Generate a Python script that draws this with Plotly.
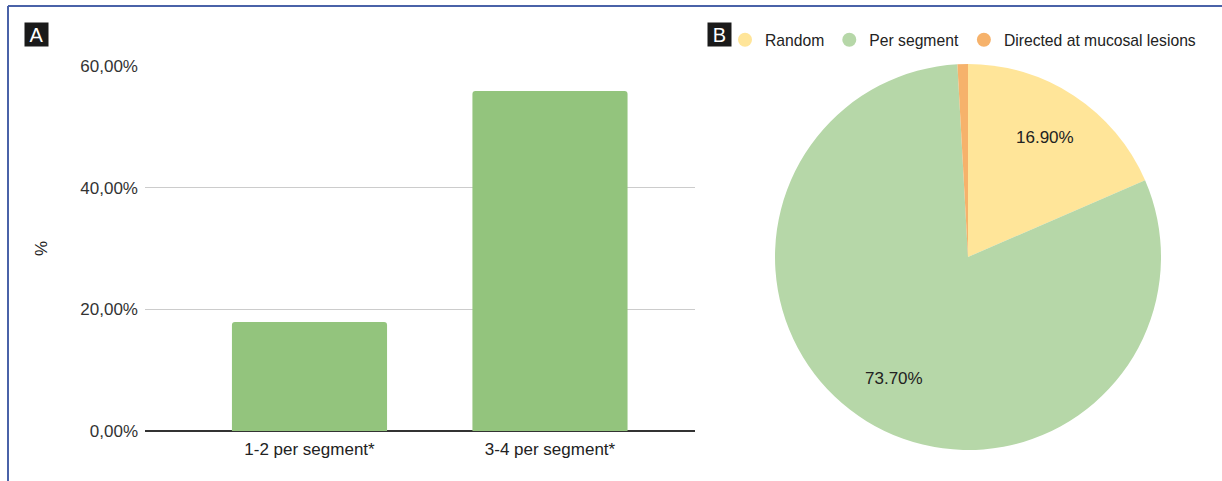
import math
import plotly.graph_objects as go

# Panel A: biopsies per segment
bar_categories = ["1-2 per segment*", "3-4 per segment*"]
bar_values = [17.9, 55.9]
y_tick_values = [0, 20, 40, 60]
y_tick_labels = ["0,00%", "20,00%", "40,00%", "60,00%"]

# Panel B: biopsy strategy
pie_labels = ["Random", "Per segment", "Directed at mucosal lesions"]
pie_values = [16.9, 73.7, 0.8]
pie_text = ["16.90%", "73.70%", ""]
pie_colors = ["#ffe599", "#b6d7a8", "#f6b26b"]

W, H = 1222, 481
FONT = "Liberation Sans, Arial, sans-serif"


def px_x(x):
    return x / W


def px_y(y):
    return 1 - y / H


# pie placement (pixels)
PIE_L, PIE_R, PIE_T, PIE_B = 775, 1161, 64, 450
pie_cx = (PIE_L + PIE_R) / 2
pie_cy = (PIE_T + PIE_B) / 2
pie_r = (PIE_R - PIE_L) / 2

fig = go.Figure()

fig.add_trace(go.Bar(
    x=bar_categories,
    y=bar_values,
    width=0.645,
    marker=dict(color="#93c47d", line=dict(width=0)),
    showlegend=False,
    hoverinfo="x+y",
))

fig.add_trace(go.Pie(
    labels=pie_labels,
    values=pie_values,
    textinfo="none",
    sort=False,
    direction="clockwise",
    rotation=0,
    automargin=False,
    marker=dict(colors=pie_colors, line=dict(width=0)),
    domain=dict(x=[px_x(PIE_L), px_x(PIE_R)], y=[px_y(PIE_B), px_y(PIE_T)]),
    showlegend=False,
))

# Circle swatches for the pie legend
for lbl, col in zip(pie_labels, pie_colors):
    fig.add_trace(go.Scatter(
        x=[None], y=[None], mode="markers", name=lbl,
        marker=dict(symbol="circle", size=14, color=col),
        showlegend=True, hoverinfo="skip",
    ))

# Slice labels placed at each slice's mid-angle
annotations = []
total = sum(pie_values)
start = 0.0
for val, txt in zip(pie_values, pie_text):
    frac = val / total
    mid = (start + frac / 2) * 2 * math.pi
    start += frac
    if not txt:
        continue
    tx = pie_cx + 0.73 * pie_r * math.sin(mid)
    ty = pie_cy - 0.74 * pie_r * math.cos(mid)
    annotations.append(dict(
        text=txt, x=px_x(tx), y=px_y(ty), xref="paper", yref="paper",
        xanchor="center", yanchor="middle",
        showarrow=False, font=dict(size=17, color="#222222", family=FONT),
    ))

annotations += [
    dict(text="A", x=px_x(36.5), y=px_y(34.5), xref="paper", yref="paper",
         xanchor="center", yanchor="middle",
         showarrow=False, font=dict(size=20, color="white", family=FONT),
         bgcolor="#1a1a1a", width=20, height=20, borderpad=1.5),
    dict(text="B", x=px_x(719.5), y=px_y(34.5), xref="paper", yref="paper",
         xanchor="center", yanchor="middle",
         showarrow=False, font=dict(size=20, color="white", family=FONT),
         bgcolor="#1a1a1a", width=20, height=20, borderpad=1.5),
]

fig.update_layout(
    width=W, height=H,
    autosize=False,
    margin=dict(l=0, r=0, t=0, b=0, pad=0, autoexpand=False),
    paper_bgcolor="white",
    plot_bgcolor="white",
    font=dict(family=FONT, size=17, color="#333333"),
    barcornerradius=3,
    xaxis=dict(
        domain=[px_x(145), px_x(695)],
        range=[-0.684, 1.603],
        automargin=False,
        showgrid=False,
        showline=False,
        ticks="",
        ticklabelstandoff=6,
        tickfont=dict(size=17, color="#222222"),
        fixedrange=True,
    ),
    yaxis=dict(
        domain=[px_y(431), px_y(66)],
        range=[0, 60],
        automargin=False,
        tickvals=y_tick_values,
        ticktext=y_tick_labels,
        showgrid=True,
        gridcolor="#cccccc",
        gridwidth=1,
        zeroline=True,
        zerolinecolor="#333333",
        zerolinewidth=1.5,
        showline=False,
        ticks="",
        ticklabelstandoff=6,
        tickfont=dict(size=17, color="#333333"),
        title=dict(text="%", font=dict(size=17, color="#222222"), standoff=28),
        fixedrange=True,
    ),
    legend=dict(
        orientation="h",
        x=px_x(725), xanchor="left",
        y=px_y(40), yanchor="middle",
        font=dict(size=15.7, color="#222222"),
        bgcolor="rgba(0,0,0,0)",
        itemclick=False,
        tracegroupgap=0,
    ),
    annotations=annotations,
    shapes=[
        dict(type="line", xref="paper", yref="paper",
             x0=px_x(8), x1=1.0, y0=px_y(6), y1=px_y(6),
             line=dict(color="#4a62a8", width=2)),
        dict(type="line", xref="paper", yref="paper",
             x0=px_x(8), x1=px_x(8), y0=px_y(6), y1=0,
             line=dict(color="#4a62a8", width=2)),
    ],
)

fig.write_html(
    "out.html",
    config={"responsive": False, "displayModeBar": False},
    post_script="document.body.style.margin='0';document.body.style.overflow='hidden';",
)
